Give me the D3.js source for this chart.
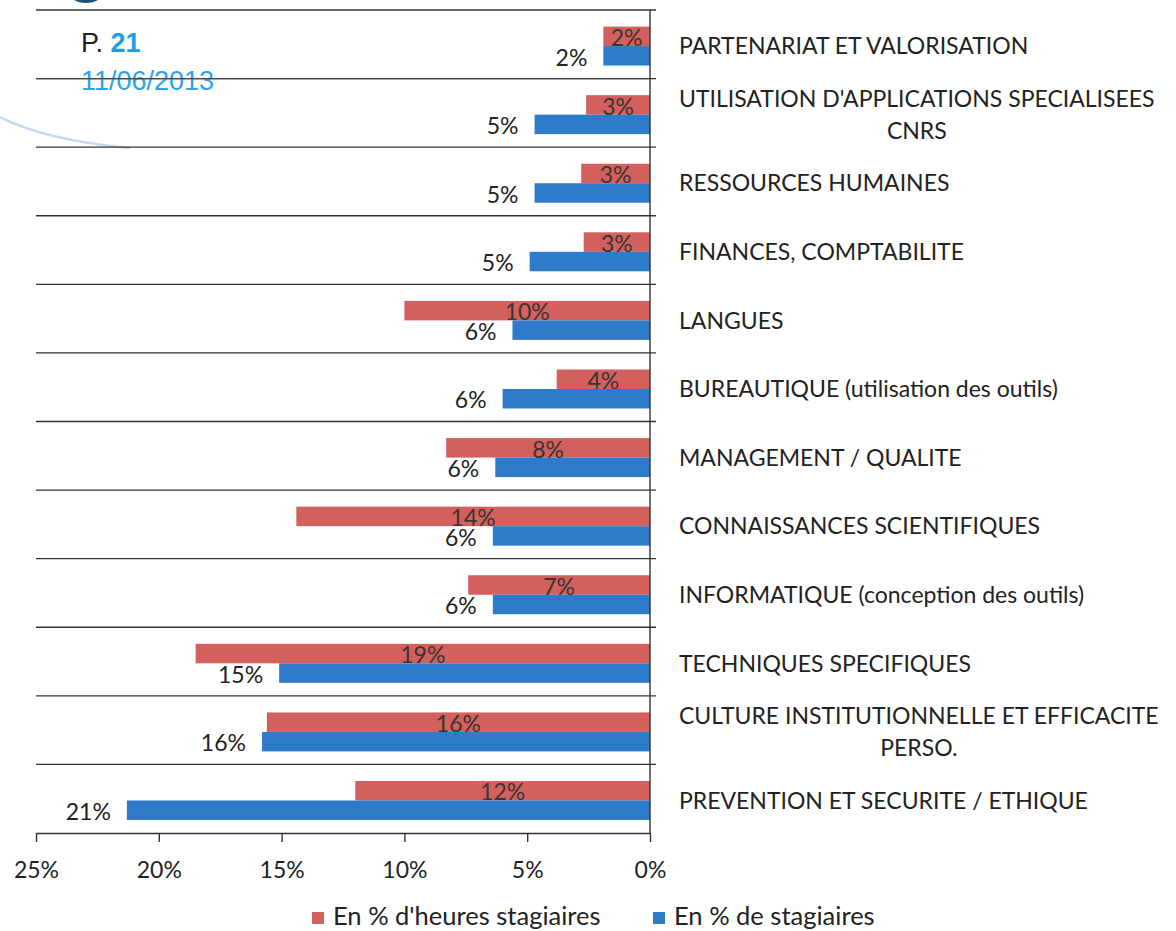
<!DOCTYPE html>
<html>
<head>
<meta charset="utf-8">
<script src="https://cdn.jsdelivr.net/npm/d3@7"></script>
<style>
  html, body { margin: 0; padding: 0; background: #fff; }
  svg { display: block; font-family: Lato, "Open Sans", sans-serif; }
</style>
</head>
<body>
<div id="root"></div>
<script>
// ------------------------------------------------------------------ DATA
const categories = [
  "PARTENARIAT ET VALORISATION",
  "UTILISATION D'APPLICATIONS SPECIALISEES\nCNRS",
  "RESSOURCES HUMAINES",
  "FINANCES, COMPTABILITE",
  "LANGUES",
  "BUREAUTIQUE (utilisation des outils)",
  "MANAGEMENT / QUALITE",
  "CONNAISSANCES SCIENTIFIQUES",
  "INFORMATIQUE (conception des outils)",
  "TECHNIQUES SPECIFIQUES",
  "CULTURE INSTITUTIONNELLE ET EFFICACITE\nPERSO.",
  "PREVENTION ET SECURITE / ETHIQUE"
];
const heuresValues    = [1.9, 2.6, 2.8, 2.7, 10.0, 3.8, 8.3, 14.4, 7.4, 18.5, 15.6, 12.0];
const stagiaireValues = [1.9, 4.7, 4.7, 4.9, 5.6, 6.0, 6.3, 6.4, 6.4, 15.1, 15.8, 21.3];
const seriesNames = ["En % d'heures stagiaires", "En % de stagiaires"];
const xTicks = [0, 5, 10, 15, 20, 25];

// ------------------------------------------------------------------ SETUP
const W = 1176, H = 931;
const RED = "#d3605c", BLUE = "#2e7bcc";
const plot = { left: 36, right: 650, top: 10, bottom: 833 };

const svg = d3.select('#root').append('svg')
  .attr('width', W).attr('height', H);

const x = d3.scaleLinear().domain([25, 0]).range([plot.left, plot.right]);
const y = d3.scaleBand().domain(d3.range(categories.length))
  .range([plot.top, plot.bottom]);
const inner = d3.scaleBand().domain([0, 1])
  .range([0, y.bandwidth()]).paddingOuter(0.76).align(0.56);

const rows = categories.map((c, i) => ({ i, c, h: heuresValues[i], s: stagiaireValues[i] }));

// ------------------------------------------------------------------ DECOR (logo bits from the scan)
svg.append('path')
  .attr('d', 'M0,117 Q45,140 130,148')
  .attr('fill', 'none').attr('stroke', '#c6d7ee').attr('stroke-width', 2.5);
svg.append('ellipse')
  .attr('cx', 86).attr('cy', -7).attr('rx', 17).attr('ry', 10)
  .attr('fill', '#1d4f6e');

// ------------------------------------------------------------------ GRID (row separators)
svg.append('g')
  .selectAll('line')
  .data(d3.range(categories.length))
  .join('line')
  .attr('x1', plot.left).attr('x2', plot.right + 6)
  .attr('y1', d => y(d)).attr('y2', d => y(d))
  .attr('stroke', '#333').attr('stroke-width', 1.4);

// ------------------------------------------------------------------ HEADER TEXT
const hdr = svg.append('text').attr('x', 81).attr('y', 52)
  .attr('font-family', '"Liberation Sans Narrow", "Liberation Sans", sans-serif').attr('font-size', 27);
hdr.append('tspan').attr('fill', '#222').text('P. ');
hdr.append('tspan').attr('fill', '#1e9de6').attr('font-weight', 'bold').text('21');
svg.append('text').attr('x', 81).attr('y', 90)
  .attr('font-family', '"Liberation Sans Narrow", "Liberation Sans", sans-serif').attr('font-size', 27)
  .attr('fill', '#2ea3ea').text('11/06/2013');
// the scan shows the row line running over the date
svg.append('line').attr('x1', plot.left).attr('x2', plot.right)
  .attr('y1', y(1)).attr('y2', y(1)).attr('stroke', '#444').attr('stroke-width', 1.2);

// ------------------------------------------------------------------ BARS
const g = svg.append('g');
g.selectAll('rect.h')
  .data(rows).join('rect').attr('class', 'h')
  .attr('x', d => x(d.h)).attr('width', d => x(0) - x(d.h))
  .attr('y', d => y(d.i) + inner(0)).attr('height', inner.bandwidth())
  .attr('fill', RED);
g.selectAll('rect.s')
  .data(rows).join('rect').attr('class', 's')
  .attr('x', d => x(d.s)).attr('width', d => x(0) - x(d.s))
  .attr('y', d => y(d.i) + inner(1)).attr('height', inner.bandwidth())
  .attr('fill', BLUE);

// ------------------------------------------------------------------ VALUE LABELS
g.selectAll('text.hl')
  .data(rows).join('text').attr('class', 'hl')
  .attr('x', d => (x(d.h) + x(0)) / 2)
  .attr('y', d => y(d.i) + inner(0) + inner.bandwidth())
  .attr('text-anchor', 'middle')
  .attr('font-size', 23).attr('fill', '#3a3434')
  .text(d => Math.round(d.h) + '%');
g.selectAll('text.sl')
  .data(rows).join('text').attr('class', 'sl')
  .attr('x', d => x(d.s) - 16)
  .attr('y', d => y(d.i) + inner(1) + inner.bandwidth())
  .attr('text-anchor', 'end')
  .attr('font-size', 23).attr('fill', '#222')
  .text(d => Math.round(d.s) + '%');

// ------------------------------------------------------------------ AXES
svg.append('line')
  .attr('x1', plot.right).attr('x2', plot.right)
  .attr('y1', plot.top).attr('y2', plot.bottom)
  .attr('stroke', '#333').attr('stroke-width', 1.4);

const xAxis = svg.append('g')
  .attr('transform', `translate(0,${plot.bottom})`)
  .call(d3.axisBottom(x).tickValues(xTicks).tickFormat(d => d + '%').tickSize(9).tickSizeOuter(0).tickPadding(8));
xAxis.select('.domain').attr('stroke', '#333').attr('stroke-width', 1.4);
xAxis.selectAll('.tick line').attr('stroke', '#333').attr('stroke-width', 1.4);
xAxis.selectAll('text').attr('font-size', 23).attr('fill', '#222')
  .attr('dy', null).attr('y', 45)
  .attr('font-family', 'Lato, sans-serif');

// ------------------------------------------------------------------ CATEGORY LABELS
const catG = svg.append('g');
rows.forEach(d => {
  const lines = d.c.split('\n');
  const cy = y(d.i) + y.bandwidth() / 2;
  const lh = 32;
  const t0 = cy - (lines.length - 1) * lh / 2 + 10;
  const first = catG.append('text')
    .attr('x', 679).attr('y', t0)
    .attr('font-size', 23).attr('fill', '#222')
    .text(lines[0]);
  if (lines.length > 1) {
    const w = first.node().getComputedTextLength();
    lines.slice(1).forEach((ln, k) => {
      catG.append('text')
        .attr('x', 679 + w / 2).attr('y', t0 + (k + 1) * lh)
        .attr('text-anchor', 'middle')
        .attr('font-size', 23).attr('fill', '#222')
        .text(ln);
    });
  }
});

// ------------------------------------------------------------------ LEGEND
const legend = svg.append('g').attr('transform', 'translate(0,925)');
const legX = [312, 653];
seriesNames.forEach((n, k) => {
  legend.append('rect')
    .attr('x', legX[k]).attr('y', -13).attr('width', 12).attr('height', 12)
    .attr('fill', k === 0 ? RED : BLUE);
  legend.append('text')
    .attr('x', legX[k] + 21).attr('y', 0)
    .attr('font-size', 25.5).attr('fill', '#222')
    .text(n);
});
</script>
</body>
</html>
